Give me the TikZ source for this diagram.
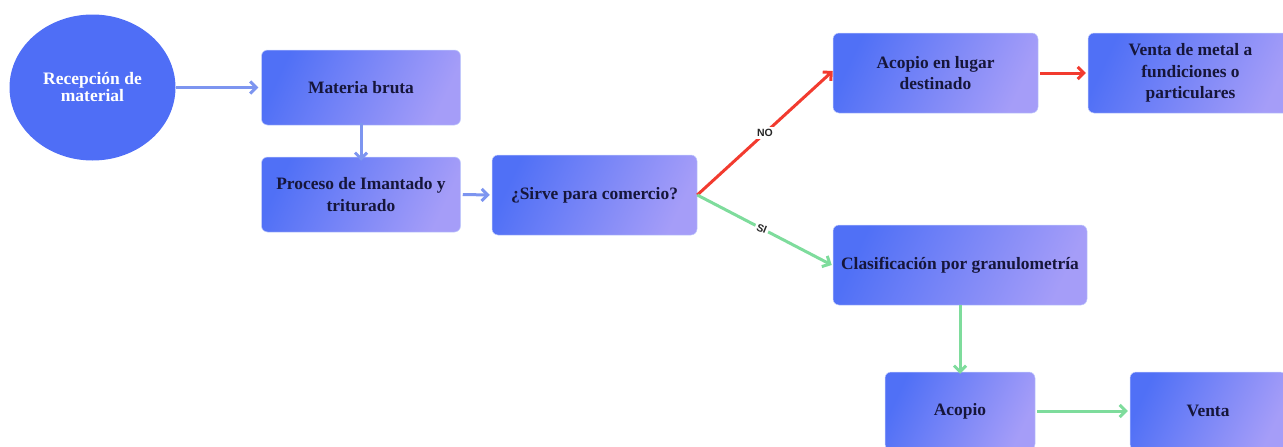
\documentclass[tikz,border=0pt]{standalone}
\usepackage{fontspec}
\setmainfont{Liberation Serif}
\newfontfamily\lblfont{Liberation Sans}
\usetikzlibrary{arrows.meta,shapes.geometric}
\definecolor{boxA}{HTML}{5070F6}
\definecolor{boxB}{HTML}{A59DF8}
\definecolor{circ}{HTML}{4F6EF6}
\definecolor{txt}{HTML}{16163A}
\definecolor{ablue}{HTML}{7D95F0}
\definecolor{ared}{HTML}{F23B2F}
\definecolor{agreen}{HTML}{7EDC9C}
\tikzset{
  procbox/.style={rectangle, rounded corners=6pt, left color=boxA, right color=boxB, shading angle=65,
    draw=boxA!35, line width=0.5pt, inner sep=0pt, align=center, text=txt,
    font=\bfseries\fontsize{17.4}{21.5}\selectfont},
  conn/.style={line width=3pt, -{Straight Barb[length=6pt,width=12pt,line width=3pt]}},
  lbl/.style={fill=white, inner sep=2pt, font=\lblfont\bfseries\fontsize{10.5}{11}\selectfont, text=black!85}
}
\begin{document}
\begin{tikzpicture}[x=1pt,y=-1pt]
\useasboundingbox (0,0) rectangle (1283,447);
\clip (0,0) rectangle (1283,447);
\node[ellipse, fill=circ, minimum width=166pt, minimum height=146pt, inner sep=0pt, text=white, align=center,
  font=\bfseries\fontsize{17.5}{17}\selectfont] (rec) at (92.5,87.5) {Recepción de\\material};
\node[procbox, minimum width=199pt, minimum height=75pt] (mat) at (361,87.5) {Materia bruta};
\node[procbox, minimum width=199pt, minimum height=75pt] (pro) at (361,194.5) {Proceso de Imantado y\\triturado};
\node[procbox, minimum width=205pt, minimum height=80pt] (sir) at (594.5,195) {¿Sirve para comercio?};
\node[procbox, minimum width=205pt, minimum height=80pt] (aco1) at (935.5,73) {Acopio en lugar\\destinado};
\node[procbox, minimum width=205pt, minimum height=80pt] (ven1) at (1190.5,73) {Venta de metal a\\fundiciones o\\particulares};
\node[procbox, minimum width=254pt, minimum height=80pt] (cla) at (960,265) {Clasificación por granulometría};
\node[procbox, minimum width=150pt, minimum height=78pt] (aco2) at (960,411) {Acopio};
\node[procbox, minimum width=156pt, minimum height=78pt] (ven2) at (1208,411) {Venta};

\draw[conn, ablue] (rec.east) -- ([xshift=-3pt]mat.west);
\draw[conn, ablue] ([yshift=2pt]mat.south) -- ([yshift=-4pt]pro.north);
\draw[conn, ablue] ([xshift=2pt]pro.east) -- ([xshift=-2pt]sir.west);
\draw[conn, ared] (sir.east) -- node[lbl, pos=0.5] {NO} ([yshift=2pt]aco1.west);
\draw[conn, ared] ([xshift=2pt]aco1.east) -- ([xshift=-2pt]ven1.west);
\draw[conn, agreen] (sir.east) -- node[lbl, pos=0.48, rotate=-22] {SI} ([xshift=-1pt]cla.west);
\draw[conn, agreen] (cla.south) -- ([yshift=-2pt]aco2.north);
\draw[conn, agreen] ([xshift=2pt]aco2.east) -- ([xshift=-2pt]ven2.west);
\end{tikzpicture}
\end{document}
